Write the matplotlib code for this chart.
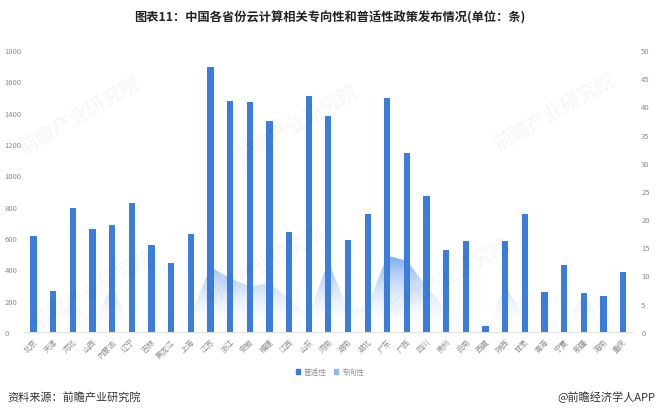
import numpy as np
import matplotlib
matplotlib.use('Agg')
import matplotlib.pyplot as plt
from matplotlib.patches import Patch

plt.rcParams['font.family'] = ['Noto Sans CJK SC', 'DejaVu Sans']

provinces = ['北京', '天津', '河北', '山西', '内蒙古', '辽宁', '吉林', '黑龙江', '上海',
             '江苏', '浙江', '安徽', '福建', '江西', '山东', '河南', '湖南', '湖北',
             '广东', '广西', '四川', '贵州', '云南', '西藏', '陕西', '甘肃', '青海',
             '宁夏', '新疆', '海南', '重庆']
general = [610, 262, 790, 655, 685, 825, 555, 440, 625,
           1690, 1475, 1465, 1345, 635, 1505, 1375, 585, 755,
           1495, 1140, 870, 525, 580, 40, 580, 750, 255,
           430, 250, 230, 380]
special = [2, 1, 5, 2, 8, 1, 1, 0.5, 3,
           11.5, 9.5, 8, 8.7, 5.8, 3, 12.5, 3.8, 4.6,
           13.5, 12.6, 8, 4, 3, 0.3, 8, 3, 1,
           1, 6.7, 1, 1]

bar_color = '#3b7ddd'
grey = '#8c8c8c'

fig = plt.figure(figsize=(6.6, 4.14), dpi=100)
ax = fig.add_axes([0.036, 0.196, 0.923, 0.681])
ax2 = ax.twinx()

x = np.arange(len(provinces))

# area series on the right axis with a vertical gradient
poly = ax2.fill_between(x, special, 0, color='none', lw=0)
grad = np.linspace(0, 1, 256).reshape(-1, 1)
cmap = matplotlib.colors.LinearSegmentedColormap.from_list(
    'g', [(1, 1, 1, 0.0), (0.35, 0.58, 0.92, 0.8)])
img = ax2.imshow(grad, cmap=cmap, aspect='auto', origin='lower',
                 extent=[x[0], x[-1], 0, max(special)], zorder=1)
path = poly.get_paths()[0]
img.set_clip_path(path, transform=ax2.transData)

ax2.set_ylim(0, 50)
ax2.set_yticks(np.arange(0, 51, 5))

ax.bar(x, general, width=0.32, color=bar_color, zorder=3)
ax.set_zorder(ax2.get_zorder() + 1)
ax.patch.set_visible(False)

ax.set_xlim(-0.5, len(provinces) - 0.5)
ax.set_ylim(0, 1800)
ax.set_yticks(np.arange(0, 1801, 200))
ax.set_xticks(x)
ax.set_xticklabels(provinces, rotation=45, ha='right', rotation_mode='anchor')

for a in (ax, ax2):
    for s in a.spines.values():
        s.set_visible(False)
    a.tick_params(length=0, labelsize=5.5, colors=grey)
ax.spines['bottom'].set_visible(True)
ax.spines['bottom'].set_color('#e0e0e0')
ax.tick_params(axis='y', pad=14)
ax.tick_params(axis='x', pad=4)
for lbl in ax.get_yticklabels():
    lbl.set_horizontalalignment('left')
ax2.tick_params(axis='y', pad=6)

handles = [Patch(color=bar_color, label='普适性'),
           Patch(color='#8fb6ee', label='专向性')]
fig.legend(handles=handles, loc='center', bbox_to_anchor=(0.5, 0.099), ncol=2,
           frameon=False, fontsize=5.5, handlelength=0.6, handleheight=0.6,
           handletextpad=0.4, columnspacing=1.0, labelcolor=grey)

fig.text(0.5, 0.958, '图表11：中国各省份云计算相关专向性和普适性政策发布情况(单位：条)',
         ha='center', va='center', fontsize=8.8, fontweight='bold', color='#222222')
fig.text(0.011, 0.04, '资料来源：前瞻产业研究院', ha='left', va='center',
         fontsize=8, color='#333333')
fig.text(0.993, 0.04, '@前瞻经济学人APP', ha='right', va='center',
         fontsize=8, color='#333333')

# faint watermarks
for wx, wy in [(0.12, 0.72), (0.45, 0.70), (0.84, 0.73), (0.14, 0.30), (0.40, 0.36), (0.68, 0.33)]:
    fig.text(wx, wy, '前瞻产业研究院', rotation=30, fontsize=14, color='#000000',
             alpha=0.035, ha='center', va='center', fontweight='bold')

fig.savefig('out.png', dpi=100)
